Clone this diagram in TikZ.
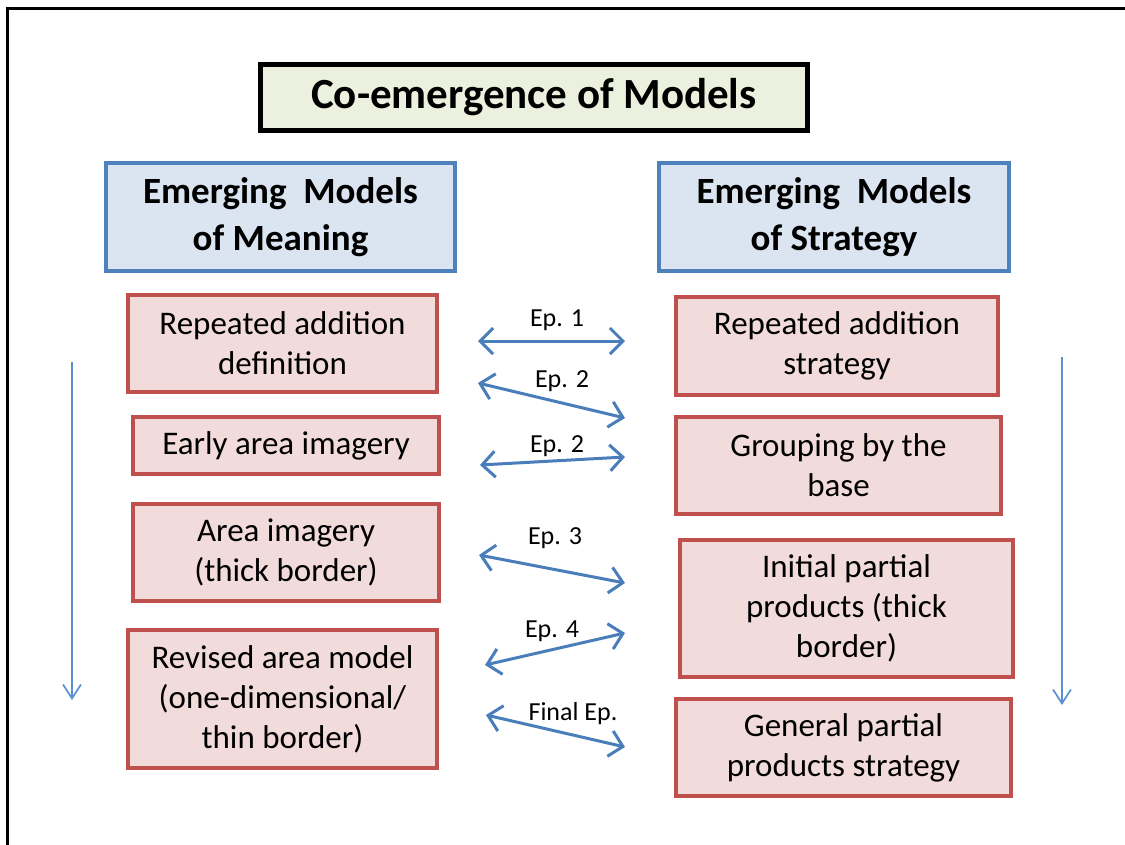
\documentclass[tikz,border=0pt]{standalone}
\usepackage{fontspec}
\setmainfont{Carlito}
\usetikzlibrary{arrows.meta}
\definecolor{redb}{RGB}{192,80,77}
\definecolor{redf}{RGB}{242,220,219}
\definecolor{blueb}{RGB}{79,129,189}
\definecolor{bluef}{RGB}{219,229,241}
\definecolor{greenf}{RGB}{235,241,222}
\definecolor{arrowc}{RGB}{74,126,187}
\definecolor{flowc}{RGB}{91,143,209}
\begin{document}
\begin{tikzpicture}[x=1pt,y=-1pt,
 box/.style={draw=redb,fill=redf,line width=4pt,align=center,font=\fontsize{33}{40}\selectfont,inner sep=0pt},
 head/.style={draw=blueb,fill=bluef,line width=4pt,align=center,font=\bfseries\fontsize{37}{47}\selectfont,inner sep=0pt},
 titlebox/.style={draw=black,fill=greenf,line width=5pt,font=\bfseries\fontsize{43}{50}\selectfont,inner sep=0pt},
 link/.style={arrowc,line width=3pt,{Straight Barb[length=13pt,width=26pt]}-{Straight Barb[length=13pt,width=26pt]}},
 eplab/.style={font=\fontsize{26}{30}\selectfont,inner sep=0pt},
 flow/.style={flowc,line width=1.7pt,-{Straight Barb[length=14pt,width=18pt]}}]
\useasboundingbox (0,0) rectangle (1125,844);
% frame (cut by the page edge on the right and bottom)
\begin{scope}
\clip (0,0) rectangle (1125,844);
\draw[line width=3pt] (7.5,8) rectangle (1200,900);
\end{scope}
% title and headers
\node[titlebox,minimum width=547pt,minimum height=66pt] (title) at (534,97.5) {Co-emergence of Models};
\node[head,minimum width=349pt,minimum height=108pt] (hl) at (280.5,217) {Emerging\ \ Models\\of Meaning};
\node[head,minimum width=350pt,minimum height=108pt] (hr) at (834,217) {Emerging\ \ Models\\of Strategy};
% left boxes
\node[box,minimum width=309pt,minimum height=97pt] (l1) at (282.5,343.5) {Repeated addition\\definition};
\node[box,minimum width=306pt,minimum height=57pt] (l2) at (286,445.5) {Early area imagery};
\node[box,minimum width=306pt,minimum height=97pt] (l3) at (286,552.5) {Area imagery\\(thick border)};
\node[box,minimum width=309pt,minimum height=138pt] (l4) at (282.5,699) {Revised area model\\(one-dimensional/\\thin border)};
% right boxes
\node[box,minimum width=322pt,minimum height=98pt] (r1) at (837,346) {Repeated addition\\strategy};
\node[box,minimum width=325pt,minimum height=97pt] (r2) at (838.5,465.5) {Grouping by the\\base};
\node[box,minimum width=333pt,minimum height=137pt] (r3) at (846.5,608.5) {Initial partial\\products (thick\\border)};
\node[box,minimum width=335pt,minimum height=97pt] (r4) at (843.5,747.5) {General partial\\products strategy};
% arrow end points
\coordinate (a1s) at (478,341); \coordinate (a1e) at (625,341);
\coordinate (a2s) at (478,383); \coordinate (a2e) at (625,418);
\coordinate (a3s) at (480,465); \coordinate (a3e) at (625,457);
\coordinate (a4s) at (479,555); \coordinate (a4e) at (625,583);
\coordinate (a5s) at (485,665); \coordinate (a5e) at (625,633);
\coordinate (a6s) at (486,715); \coordinate (a6e) at (625,747);
\draw[link] (a1s) -- (a1e);
\draw[link] (a2s) -- (a2e);
\draw[link] (a3s) -- (a3e);
\draw[link] (a4s) -- (a4e);
\draw[link] (a5s) -- (a5e);
\draw[link] (a6s) -- (a6e);
\node[eplab] (e1) at (557,320) {Ep. 1};
\node[eplab] (e2) at (562,381) {Ep. 2};
\node[eplab] (e3) at (557,446) {Ep. 2};
\node[eplab] (e4) at (555,538) {Ep. 3};
\node[eplab] (e5) at (552,631) {Ep. 4};
\node[eplab] (e6) at (573,714) {Final Ep.};
% flow arrows
\coordinate (fl1) at (72,362); \coordinate (fl2) at (72,700);
\coordinate (fr1) at (1062,357); \coordinate (fr2) at (1062,705);
\draw[flow] (fl1) -- (fl2);
\draw[flow] (fr1) -- (fr2);
\end{tikzpicture}
\end{document}
